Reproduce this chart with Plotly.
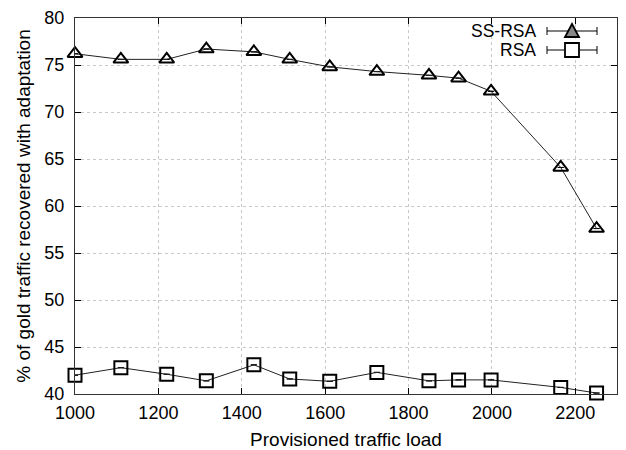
import plotly.graph_objects as go

load = [1000, 1110, 1220, 1315, 1429, 1515, 1611, 1724, 1849, 1920, 1998, 2165, 2251]
ss_rsa = [76.2, 75.6, 75.6, 76.7, 76.4, 75.6, 74.8, 74.3, 73.9, 73.6, 72.2, 64.1, 57.6]
rsa = [42.0, 42.8, 42.1, 41.4, 43.1, 41.6, 41.35, 42.3, 41.4, 41.5, 41.5, 40.7, 40.1]
err = [0.0] * len(load)

x_ticks = [1000, 1200, 1400, 1600, 1800, 2000, 2200]
y_ticks = [40, 45, 50, 55, 60, 65, 70, 75, 80]

FONT = "Liberation Sans, Arial, sans-serif"
# page body has an 8px margin, so the figure is offset by 8px
W, H = 610, 442
L, R, T, B = 67, 1, 10, 56

fig = go.Figure()
for name, vals, sym in [("SS-RSA", ss_rsa, "triangle-up-open"), ("RSA", rsa, "square-open")]:
    fig.add_trace(go.Scatter(
        x=load, y=vals, name=name, mode="lines+markers",
        line=dict(color="#222222", width=1),
        marker=dict(symbol=sym, size=13, color="black", line=dict(width=2, color="black")),
        error_y=dict(type="data", array=err, visible=True, color="black", thickness=1, width=3),
        showlegend=False, cliponaxis=False,
    ))

fig.update_layout(
    width=W, height=H,
    margin=dict(l=L, r=R, t=T, b=B),
    paper_bgcolor="white", plot_bgcolor="white",
    font=dict(family=FONT, size=18, color="black"),
)
fig.update_xaxes(
    range=[1000, 2300], tickvals=x_ticks, ticks="inside", ticklen=6, tickcolor="black",
    showline=True, linecolor="#333333", linewidth=1, mirror="allticks",
    showgrid=True, gridcolor="#c8c8c8", griddash="dot", gridwidth=1,
    zeroline=False, automargin=False, ticklabelstandoff=2,
    tickfont=dict(size=18),
    title=dict(text="Provisioned traffic load", font=dict(size=19), standoff=15),
)
fig.update_yaxes(
    range=[40, 80], tickvals=y_ticks, ticks="inside", ticklen=6, tickcolor="black",
    showline=True, linecolor="#333333", linewidth=1, mirror="allticks",
    showgrid=True, gridcolor="#c8c8c8", griddash="dot", gridwidth=1,
    zeroline=False, automargin=False, ticklabelstandoff=6,
    tickfont=dict(size=18),
    title=dict(text="% of gold traffic recovered with adaptation", font=dict(size=19), standoff=8),
)

# custom legend (text left of sample, gnuplot style); positions given in window pixels
def px(xs):
    return (xs - 8 - L) / (W - L - R)

def py(ys):
    return 1 - (ys - 8 - T) / (H - T - B)

shapes = []
annotations = []
for i, name in enumerate(["SS-RSA", "RSA"]):
    yc = 31 + i * 19
    annotations.append(dict(x=px(538), y=py(yc), xref="paper", yref="paper", text=name,
                            showarrow=False, xanchor="right", yanchor="middle",
                            font=dict(size=17.5, family=FONT)))
    shapes.append(dict(type="line", xref="paper", yref="paper", x0=px(547), x1=px(597),
                       y0=py(yc), y1=py(yc), line=dict(color="black", width=1)))
    for xe in (547, 597):
        shapes.append(dict(type="line", xref="paper", yref="paper", x0=px(xe), x1=px(xe),
                           y0=py(yc - 4), y1=py(yc + 4), line=dict(color="black", width=1)))
    if i == 0:
        path = f"M {px(565)},{py(yc+6)} L {px(579)},{py(yc+6)} L {px(572)},{py(yc-7)} Z"
        shapes.append(dict(type="path", xref="paper", yref="paper", path=path,
                           fillcolor="#888888", line=dict(color="black", width=1.8)))
    else:
        shapes.append(dict(type="rect", xref="paper", yref="paper", x0=px(565), x1=px(579),
                           y0=py(yc + 7), y1=py(yc - 7), fillcolor="white",
                           line=dict(color="black", width=1.8)))
fig.update_layout(shapes=shapes, annotations=annotations)

fig.write_html("out.html")
